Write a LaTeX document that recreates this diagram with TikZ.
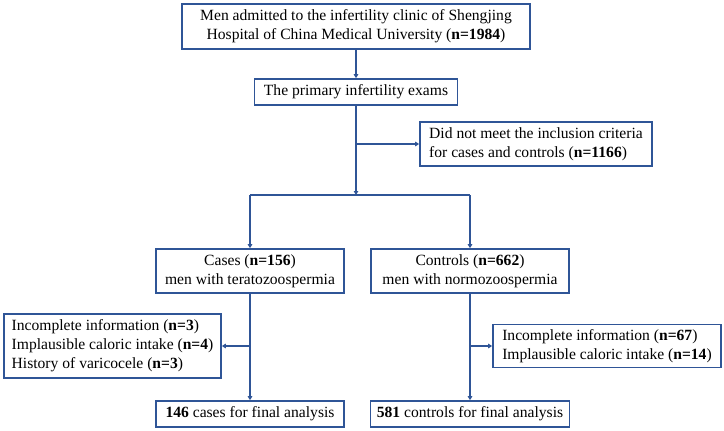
\documentclass[tikz,border=0pt]{standalone}
\usepackage{fontspec}
\setmainfont{Liberation Serif}
\usepackage{tikz}
\usetikzlibrary{arrows.meta,calc}
\definecolor{frame}{RGB}{47,85,151}
\newcommand{\flowfont}{\fontsize{15.6}{19}\selectfont}
\tikzset{
  box/.style={rectangle,draw=frame,line width=1.6pt,fill=white,inner sep=0pt,align=center,font=\flowfont},
  leftbox/.style={box,align=left},  % exclusion notes
  flow/.style={-{Triangle[length=4pt,width=4.5pt]},line width=1.6pt,draw=frame},
  link/.style={line width=1.6pt,draw=frame},
}

\begin{document}
\begin{tikzpicture}[x=1pt,y=-1pt]
\useasboundingbox (0,0) rectangle (724,431);

\node[box,minimum width=348pt,minimum height=45pt] (adm) at (356,26.5)
  {Men admitted to the infertility clinic of Shengjing\\Hospital of China Medical University (\textbf{n=1984})};
\node[box,minimum width=203pt,minimum height=26pt] (exam) at (356,92) {The primary infertility exams};
\node[leftbox,minimum width=232pt,minimum height=44pt] (excl) at (536,144)
  {Did not meet the inclusion criteria\\for cases and controls (\textbf{n=1166})};

\node[box,minimum width=188pt,minimum height=44pt] (cases) at (250,271) {Cases (\textbf{n=156})\\ men with teratozoospermia};
\node[box,minimum width=198pt,minimum height=44pt] (ctrl) at (470,271) {Controls (\textbf{n=662})\\ men with normozoospermia};

\node[leftbox,minimum width=217pt,minimum height=64pt] (casex) at (112.5,346)
  {Incomplete information (\textbf{n=3})\\Implausible caloric intake (\textbf{n=4})\\History of varicocele (\textbf{n=3})};
\node[leftbox,minimum width=228pt,minimum height=43pt] (ctrlx) at (607,346)
  {Incomplete information (\textbf{n=67})\\Implausible caloric intake (\textbf{n=14})};

\node[box,minimum width=188pt,minimum height=26pt] (casef) at (250,414) {\textbf{146} cases for final analysis};
\node[box,minimum width=199pt,minimum height=26pt] (ctrlf) at (470,414) {\textbf{581} controls for final analysis};

% main flow
\coordinate (split) at (356,195);
\draw[flow] (adm) -- (exam);
\draw[flow] (exam.south) -- (split);
\draw[flow] (exam.south |- excl.west) -- (excl.west);

% two arms
\draw[link] (cases.north |- split) -- (ctrl.north |- split);
\draw[flow] (cases.north |- split) -- (cases.north);
\draw[flow] (ctrl.north |- split) -- (ctrl.north);

\draw[flow] (cases) -- (casef);
\draw[flow] (cases.south |- casex.east) -- (casex.east);
\draw[flow] (ctrl) -- (ctrlf);
\draw[flow] (ctrl.south |- ctrlx.west) -- (ctrlx.west);
\end{tikzpicture}
\end{document}
